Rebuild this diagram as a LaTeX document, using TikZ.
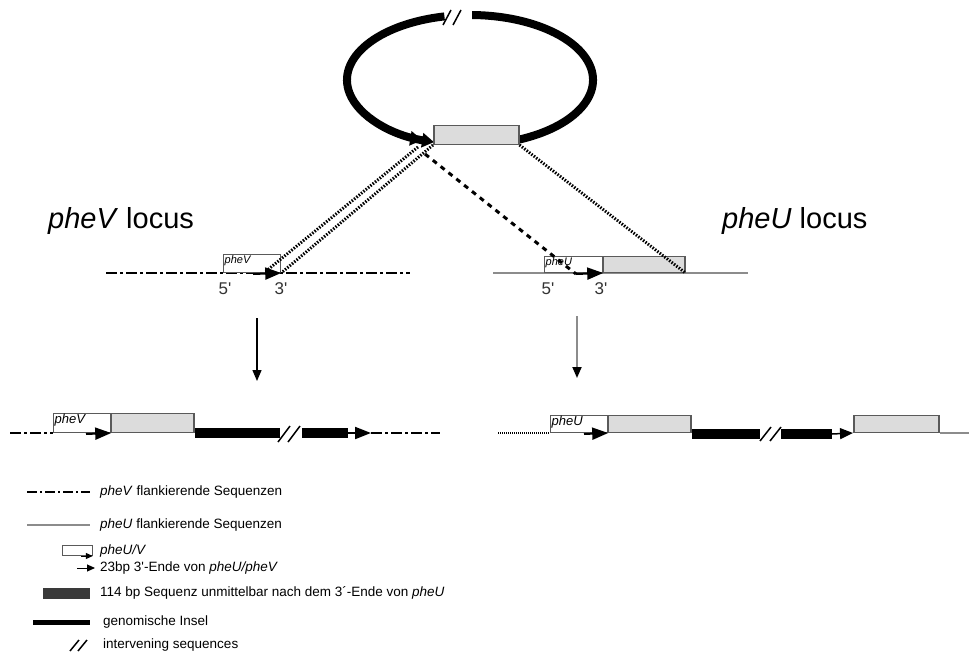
\documentclass[tikz,border=0pt]{standalone}
\usepackage{fontspec}
\setmainfont{Liberation Sans}
\usetikzlibrary{arrows.meta,positioning}

\definecolor{boxgray}{HTML}{DCDCDC}
\definecolor{edgegray}{HTML}{5A5A5A}
\definecolor{flankgray}{HTML}{8C8C8C}
\definecolor{seqdark}{HTML}{3A3A3A}

\newcommand{\locusfont}{\fontsize{29}{33}\selectfont}
\newcommand{\primefont}{\fontsize{17}{20}\selectfont\color{black!80}}
\newcommand{\genefont}{\fontsize{11}{13}\selectfont\itshape}
\newcommand{\legendfont}{\fontsize{13.5}{16}\selectfont}
\newcommand{\prm}{\textquotesingle}

\tikzset{
  genebox/.style={draw=edgegray, line width=1.2pt, fill=white, inner sep=0pt, anchor=south west},
  islandbox/.style={draw=edgegray, line width=1.5pt, fill=boxgray, inner sep=0pt, anchor=south west},
  flankV/.style={line width=2.5pt, dash pattern=on 11pt off 3pt on 3pt off 3pt},
  flankU/.style={line width=2.5pt, flankgray},
  island/.style={line width=10pt},
  endarrow/.style={line width=2pt, -{Triangle[length=16pt 0 0,width=12pt 0 0]}},
  dots/.style={line width=3pt, dash pattern=on 1.5pt off 1.5pt},
  dashes/.style={line width=3pt, dash pattern=on 5pt off 5pt},
  breakmark/.style={line width=1.5pt},
  legendtext/.style={anchor=west, inner sep=0pt, font=\legendfont},
}

\begin{document}
\begin{tikzpicture}[x=1pt, y=-1pt]

    \useasboundingbox (0,0) rectangle (969,653);

    % Define the center of the plasmid
    \coordinate (P) at (470,80);

    % Draw the plasmid (two arcs with a break on top)
    \draw[line width=8pt] (P) ++(67:123 and 65)
        arc[start angle=67, end angle=-89, x radius=123, y radius=65];
    \draw[line width=8pt, -{Triangle[length=12pt 0 0,width=14pt 0 0]Triangle[length=12pt 0 0,width=14pt 0 0]}]
        (P) ++(-102:123 and 65)
        arc[start angle=-102, end angle=-253, x radius=123, y radius=65];
    \draw[breakmark] (443,25) -- (451,10);
    \draw[breakmark] (453,25) -- (461,10);

    % Island on the plasmid
    \node[islandbox, minimum width=85pt, minimum height=19pt] (plasbox) at (433,145) {};

    % pheV locus
    \node[anchor=base west, inner sep=0pt, font=\locusfont] (vtitle) at (48,228) {\textit{pheV} locus};
    \draw[flankV] (106,273) -- (410,273);
    \node[genebox, minimum width=57pt, minimum height=18pt] (vbox) at (223,273) {};
    \node[anchor=north west, inner sep=1.5pt, font=\genefont] at (vbox.north west) {pheV};
    \coordinate (varr) at (253,274);
    \draw[endarrow] (varr) -- (vbox.south east);
    \node[font=\primefont] (v5) at (225,289) {5\prm};
    \node[font=\primefont] (v3) at (281,289) {3\prm};

    % pheU locus
    \node[anchor=base west, inner sep=0pt, font=\locusfont] (utitle) at (722,228) {\textit{pheU} locus};
    \draw[flankU] (493,273) -- (748,273);
    \node[genebox, minimum width=58pt, minimum height=16pt] (ubox) at (544,273) {};
    \node[islandbox, minimum width=82pt, minimum height=16pt] (uisl) at (602,273) {};
    \node[anchor=north west, inner sep=1.5pt, font=\genefont] at (ubox.north west) {pheU};
    \coordinate (uarr) at (576,274);
    \draw[endarrow] (uarr) -- (ubox.south east);
    \node[font=\primefont] (u5) at (548,289) {5\prm};
    \node[font=\primefont] (u3) at (601,289) {3\prm};

    % Lines from the plasmid to the loci
    \coordinate (pl1) at (418,147);
    \coordinate (vl1) at (265,272);
    \coordinate (pd) at (425,154);
    \draw[dots] (pl1) -- (vl1);
    \draw[dots] (plasbox.south west) -- (vbox.south east);
    \draw[dashes] (pd) -- (uarr);
    \draw[dots] (plasbox.south east) -- (uisl.south east);

    % Arrows down to the results
    \coordinate (vtop) at (257,318);
    \coordinate (vbot) at (257,381);
    \coordinate (utop) at (577,316);
    \coordinate (ubot) at (577,378);
    \draw[line width=1.3pt, -{Triangle[length=11pt 0 0,width=9pt 0 0]}] (vtop) -- (vbot);
    \draw[line width=1.8pt, flankgray, -{Triangle[length=11pt 0 0,width=9pt 0 0,color=black]}] (utop) -- (ubot);

    % Result in the pheV locus
    \draw[flankV] (10,433) -- (53,433);
    \node[genebox, minimum width=57pt, minimum height=19pt] (vboxA) at (53,433) {};
    \node[islandbox, minimum width=83pt, minimum height=19pt] (vislA) at (110,433) {};
    \node[anchor=north west, inner sep=1.5pt, font=\genefont\fontsize{13}{15}\selectfont] at (vboxA.north west) {pheV};
    \coordinate (varrA) at (86,434);
    \draw[endarrow] (varrA) -- (vboxA.south east);
    \draw[island] (vislA.south east) -- (280,433);
    \draw[breakmark] (278,442) -- (290,426);
    \draw[breakmark] (288,442) -- (300,426);
    \draw[island] (302,433) -- (348,433);
    \draw[endarrow] (348,433) -- (371,433);
    \draw[flankV] (371,433) -- (440,433);

    % Result in the pheU locus
    \draw[line width=2pt, dash pattern=on 1pt off 1pt] (498,433) -- (550,433);
    \node[genebox, minimum width=57pt, minimum height=17pt] (uboxA) at (550,433) {};
    \node[islandbox, minimum width=83pt, minimum height=17pt] (uislA) at (607,433) {};
    \node[anchor=north west, inner sep=1.5pt, font=\genefont\fontsize{13}{15}\selectfont] at (uboxA.north west) {pheU};
    \coordinate (uarrA) at (584,434);
    \draw[endarrow] (uarrA) -- (uboxA.south east);
    \draw[island] (692,434) -- (760,434);
    \draw[breakmark] (760,441) -- (771,427);
    \draw[breakmark] (770,441) -- (781,427);
    \draw[island] (781,434) -- (832,434);
    \node[islandbox, minimum width=85pt, minimum height=17pt] (uislB) at (853,433) {};
    \draw[line width=1.5pt, -{Triangle[length=13pt 0 0,width=11pt 0 0]}] (832,434) -- (uislB.south west);
    \draw[flankU] (uislB.south east) -- (969,433);

    % Legend
    \draw[flankV, dash pattern=on 10pt off 3pt on 2pt off 3pt, line width=2pt] (27,492) -- (90,492);
    \node[legendtext] (l1) at (100,492) {\textit{pheV} flankierende Sequenzen};
    \draw[flankU, line width=2pt] (27,525) -- (90,525);
    \node[legendtext] (l2) at (100,525) {\textit{pheU} flankierende Sequenzen};
    \node[genebox, line width=0.8pt, minimum width=30pt, minimum height=10pt] (lbox) at (62,556) {};
    \draw[line width=1pt, -{Triangle[length=7pt 0 0,width=6pt 0 0]}] (81,556) -- (lbox.south east);
    \node[legendtext] (l3) at (100,551) {\textit{pheU/V}};
    \draw[line width=1pt, -{Triangle[length=8pt 0 0,width=7pt 0 0]}] (77,568) -- (95,568);
    \node[legendtext] (l4) at (100,568) {23bp 3\prm-Ende von \textit{pheU/pheV}};
    \fill[seqdark] (43,588) rectangle (90,599);
    \node[legendtext] (l5) at (100,593) {114 bp Sequenz unmittelbar nach dem 3´-Ende von \textit{pheU}};
    \draw[line width=5pt] (33,622) -- (90,622);
    \node[legendtext] (l6) at (103,622) {genomische Insel};
    \draw[breakmark] (70,651) -- (79,640);
    \draw[breakmark] (78,651) -- (87,640);
    \node[legendtext] (l7) at (103,645) {intervening sequences};

\end{tikzpicture}
\end{document}
